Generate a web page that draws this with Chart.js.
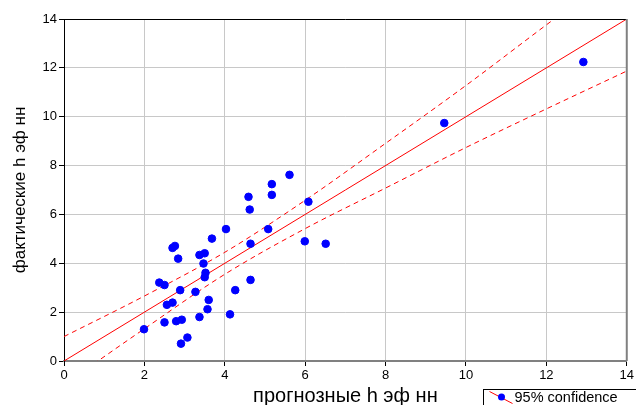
<!DOCTYPE html>
<html>
<head>
<meta charset="utf-8">
<script src="https://cdn.jsdelivr.net/npm/chart.js@4.4.1/dist/chart.umd.min.js"></script>
<style>
  html, body { margin: 0; padding: 0; background: #fff; }
  #wrap { width: 636px; height: 405px; }
</style>
</head>
<body>
<div id="wrap"><canvas id="chart" width="636" height="405"></canvas></div>
<script>
const predicted = [1.99, 2.37, 2.50, 2.50, 2.56, 2.70, 2.76, 2.84, 2.70, 2.89, 2.79, 2.93, 2.91, 3.07, 3.27, 3.37, 3.37, 3.50, 3.47, 3.52,
                   3.50, 3.60, 3.57, 3.68, 4.03, 4.13, 4.26, 4.62, 4.64, 4.64, 5.08, 5.99, 6.08, 4.59, 5.17, 5.17, 5.61, 6.51, 9.46, 12.92];
const actual = [1.30, 3.21, 3.11, 1.58, 2.30, 4.63, 4.71, 4.19, 2.39, 2.90, 1.63, 1.69, 0.71, 0.96, 2.83, 1.80, 4.34, 4.41, 3.99, 3.61,
                3.43, 2.50, 2.12, 5.01, 5.40, 1.91, 2.90, 6.20, 4.80, 3.32, 5.40, 4.90, 6.52, 6.72, 7.24, 6.80, 7.62, 4.80, 9.74, 12.24];

// fitted line and 95% confidence band
const fitX = [0, 14];
const fitY = [0, 14];
const bandX = [0, 2, 4, 6, 8, 10, 12, 14];
const bandUpper = [1.0, 2.66, 4.45, 6.58, 8.91, 11.28, 13.76, 16.2];
const bandLower = [-0.97, 1.32, 3.55, 5.42, 7.08, 8.74, 10.32, 11.87];

const xTitle = 'прогнозные h эф нн';
const yTitle = 'фактические h эф нн';
const legendLabel = '95% confidence';

const toPts = (xs, ys) => xs.map((x, i) => ({ x: x, y: ys[i] }));

const frame = {
    id: 'frame',
    afterDatasetsDraw(chart) {
        const { ctx, chartArea: a } = chart;
        ctx.save();
        // top and right border
        ctx.strokeStyle = '#000';
        ctx.lineWidth = 1;
        ctx.beginPath();
        ctx.moveTo(a.left, a.top + 0.5);
        ctx.lineTo(a.right, a.top + 0.5);
        ctx.stroke();
        ctx.strokeStyle = '#808080';
        ctx.lineWidth = 2;
        ctx.beginPath();
        ctx.moveTo(a.right, a.top);
        ctx.lineTo(a.right, a.bottom);
        ctx.stroke();
        ctx.restore();
    },
    afterDraw(chart) {
        const { ctx } = chart;
        ctx.save();
        // legend box (cut off by the bottom edge like the original)
        const bx = 483.5, by = 389.5;
        ctx.strokeStyle = '#000';
        ctx.lineWidth = 1;
        ctx.strokeRect(bx, by, 200, 40);
        ctx.strokeStyle = '#ff0000';
        ctx.beginPath();
        ctx.moveTo(bx + 6, by + 2);
        ctx.lineTo(bx + 29, by + 14);
        ctx.stroke();
        ctx.fillStyle = '#0000ff';
        ctx.beginPath();
        ctx.arc(bx + 18, by + 7.5, 3.5, 0, Math.PI * 2);
        ctx.fill();
        ctx.fillStyle = '#000';
        ctx.font = '14.5px "Liberation Sans", Arial, sans-serif';
        ctx.textBaseline = 'middle';
        ctx.fillText(legendLabel, bx + 31, by + 8);
        ctx.restore();
    }
};

new Chart(document.getElementById('chart'), {
    type: 'scatter',
    data: {
        datasets: [
            {
                label: 'points',
                data: toPts(predicted, actual),
                backgroundColor: '#0000ff',
                borderColor: '#0000ff',
                pointRadius: 3.8,
                pointHoverRadius: 3.8,
                order: 0
            },
            {
                type: 'line',
                label: 'fit',
                data: toPts(fitX, fitY),
                borderColor: '#ff0000',
                borderWidth: 1,
                pointRadius: 0,
                fill: false,
                order: 1
            },
            {
                type: 'line',
                label: 'upper',
                data: toPts(bandX, bandUpper),
                borderColor: '#ff0000',
                borderWidth: 1,
                borderDash: [5, 4],
                cubicInterpolationMode: 'monotone',
                pointRadius: 0,
                fill: false,
                order: 1
            },
            {
                type: 'line',
                label: 'lower',
                data: toPts(bandX, bandLower),
                borderColor: '#ff0000',
                borderWidth: 1,
                borderDash: [5, 4],
                cubicInterpolationMode: 'monotone',
                pointRadius: 0,
                fill: false,
                order: 1
            }
        ]
    },
    options: {
        responsive: false,
        animation: false,
        layout: { padding: { top: 19, right: 8, left: 0, bottom: -3 } },
        plugins: {
            legend: { display: false },
            tooltip: { enabled: false }
        },
        scales: {
            x: {
                type: 'linear',
                min: 0,
                max: 14,
                afterFit: (s) => { s.height = 47; },
                ticks: {
                    stepSize: 2,
                    color: '#000',
                    padding: 2,
                    font: { family: '"Liberation Sans", Arial, sans-serif', size: 13 }
                },
                grid: { color: '#c8c8c8', lineWidth: 1, tickLength: 5, tickColor: '#000' },
                border: { color: '#808080', width: 2 },
                title: {
                    display: true,
                    text: xTitle,
                    color: '#000',
                    padding: { top: 0, bottom: 0 },
                    font: { family: '"Liberation Sans", Arial, sans-serif', size: 20 }
                }
            },
            y: {
                type: 'linear',
                min: 0,
                max: 14,
                afterFit: (s) => { s.width = 64; },
                ticks: {
                    stepSize: 2,
                    color: '#000',
                    padding: 2,
                    font: { family: '"Liberation Sans", Arial, sans-serif', size: 13 }
                },
                grid: { color: '#c8c8c8', lineWidth: 1, tickLength: 5, tickColor: '#000' },
                border: { color: '#000', width: 1 },
                title: {
                    display: true,
                    text: yTitle,
                    color: '#000',
                    padding: { top: 10, bottom: 0 },
                    font: { family: '"Liberation Sans", Arial, sans-serif', size: 17 }
                }
            }
        }
    },
    plugins: [frame]
});
</script>
</body>
</html>
